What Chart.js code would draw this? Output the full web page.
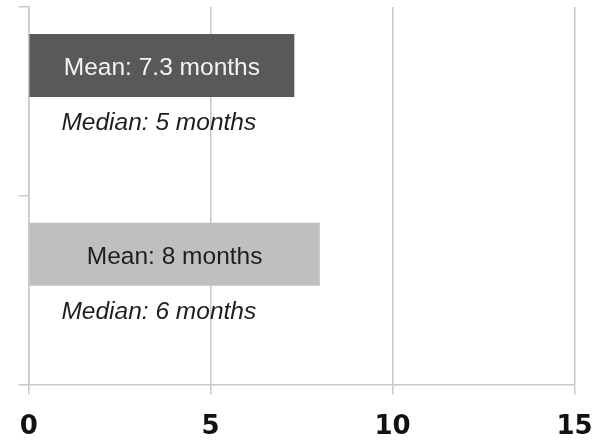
<!DOCTYPE html>
<html>
<head>
<meta charset="utf-8">
<script src="https://cdn.jsdelivr.net/npm/chart.js@4.4.0/dist/chart.umd.min.js"></script>
<style>
  html, body { margin: 0; padding: 0; background: #fff; }
  #wrap { width: 611px; height: 442px; }
</style>
</head>
<body>
<div id="wrap"><canvas id="durationChart"></canvas></div>
<script>
// two groups, mean and median duration in months
const groups = ['Group A', 'Group B'];
const meanMonths = [7.3, 8];
const medianMonths = [5, 6];
const meanColors = ['#595959', '#bfbfbf'];
const meanTextColors = ['#f4f4f4', '#1e1e1e'];
const xTicks = [0, 5, 10, 15];

const gridGray = '#c8c8c8';
const labelFont = '24.5px "Liberation Sans", Arial, sans-serif';

// writes the mean inside each bar and the median in italics under it
const barText = {
  id: 'barText',
  afterDatasetsDraw(chart) {
    const ctx = chart.ctx;
    const xScale = chart.scales.x;
    const meanBars = chart.getDatasetMeta(0).data;
    const medianBars = chart.getDatasetMeta(1).data;
    ctx.save();
    ctx.textBaseline = 'middle';
    meanBars.forEach((bar, i) => {
      ctx.font = labelFont;
      ctx.fillStyle = meanTextColors[i];
      ctx.textAlign = 'center';
      ctx.fillText('Mean: ' + meanMonths[i] + ' months', (bar.base + bar.x) / 2, bar.y + 3);

      ctx.font = 'italic ' + labelFont;
      ctx.fillStyle = '#1e1e1e';
      ctx.textAlign = 'left';
      ctx.fillText('Median: ' + medianMonths[i] + ' months', xScale.getPixelForValue(0.9), medianBars[i].y - 14);
    });
    ctx.restore();
  }
};

const ctx = document.getElementById('durationChart').getContext('2d');
new Chart(ctx, {
  type: 'bar',
  data: {
    labels: groups,
    datasets: [
      {
        label: 'Mean',
        data: meanMonths,
        backgroundColor: meanColors,
        borderWidth: 0
      },
      {
        // kept invisible, only the text under the mean bar is shown
        label: 'Median',
        data: medianMonths,
        backgroundColor: 'rgba(0,0,0,0)',
        borderWidth: 0
      }
    ]
  },
  options: {
    indexAxis: 'y',
    responsive: true,
    maintainAspectRatio: false,
    animation: false,
    categoryPercentage: 0.76,
    barPercentage: 0.88,
    layout: { padding: { left: 18.7, right: 36.5, top: 7, bottom: 0 } },
    plugins: {
      legend: { display: false },
      tooltip: { enabled: false }
    },
    scales: {
      x: {
        min: 0,
        max: 15,
        afterBuildTicks(scale) {
          scale.ticks = xTicks.map(v => ({ value: v }));
        },
        afterFit(scale) {
          scale.height = 57.5;
        },
        grid: { color: gridGray, lineWidth: 1.5, tickLength: 10 },
        border: { color: gridGray, width: 1.5 },
        ticks: {
          color: '#111',
          padding: 17,
          font: { family: '"DejaVu Sans"', weight: 'bold', size: 26 }
        }
      },
      y: {
        offset: true,
        grid: { offset: true, drawOnChartArea: false, color: gridGray, lineWidth: 1.5, tickLength: 10 },
        border: { color: gridGray, width: 1.5 },
        ticks: { display: false }
      }
    }
  },
  plugins: [barText]
});
</script>
</body>
</html>
